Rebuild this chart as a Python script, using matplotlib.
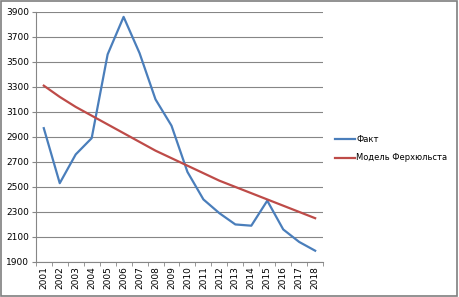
import matplotlib
matplotlib.use("Agg")
import matplotlib.pyplot as plt
import numpy as np

years = [str(y) for y in range(2001, 2019)]
fact = [2970, 2530, 2760, 2890, 3560, 3860, 3570, 3200, 2990, 2620,
        2400, 2290, 2200, 2190, 2390, 2160, 2060, 1990]
model = [3310, 3220, 3140, 3070, 3000, 2930, 2860, 2790, 2730, 2670,
         2610, 2550, 2500, 2450, 2400, 2350, 2300, 2250]
yticks = list(range(1900, 4000, 200))

fig = plt.figure(figsize=(4.59, 2.97), dpi=100)
fig.patches.append(plt.Rectangle((0.002, 0.004), 0.994, 0.992, transform=fig.transFigure,
                                 fill=False, edgecolor="#7f7f7f", linewidth=1.2))
ax = fig.add_axes([0.078, 0.118, 0.626, 0.842])
x = np.arange(len(years))
ax.plot(x, fact, color="#4A7EBB", linewidth=1.6, label="Факт")
ax.plot(x, model, color="#BE4B48", linewidth=1.6, label="Модель Ферхюльста")
ax.set_xlim(-0.5, len(years) - 0.5)
ax.set_ylim(1900, 3900)
ax.set_yticks(yticks)
ax.set_yticklabels([str(v) for v in yticks], fontsize=6.5)
ax.set_xticks(x)
ax.set_xticklabels(years, rotation=90, fontsize=6.5)
ax.set_xticks(np.arange(-0.5, len(years), 1), minor=True)
ax.tick_params(axis="x", which="major", length=0, pad=3)
ax.tick_params(axis="x", which="minor", length=3, color="#868686")
ax.tick_params(axis="y", length=3, color="#868686", pad=2)
ax.grid(axis="y", color="#868686", linewidth=0.8)
ax.set_axisbelow(True)
for s in ["top", "right"]:
    ax.spines[s].set_visible(False)
for s in ["left", "bottom"]:
    ax.spines[s].set_color("#868686")
    ax.spines[s].set_linewidth(0.8)
leg = fig.legend(loc="center left", bbox_to_anchor=(0.713, 0.5), frameon=False,
                 fontsize=6.0, handlelength=2.4, handletextpad=0.2, labelspacing=1.2)
fig.savefig("out.png", dpi=100)
